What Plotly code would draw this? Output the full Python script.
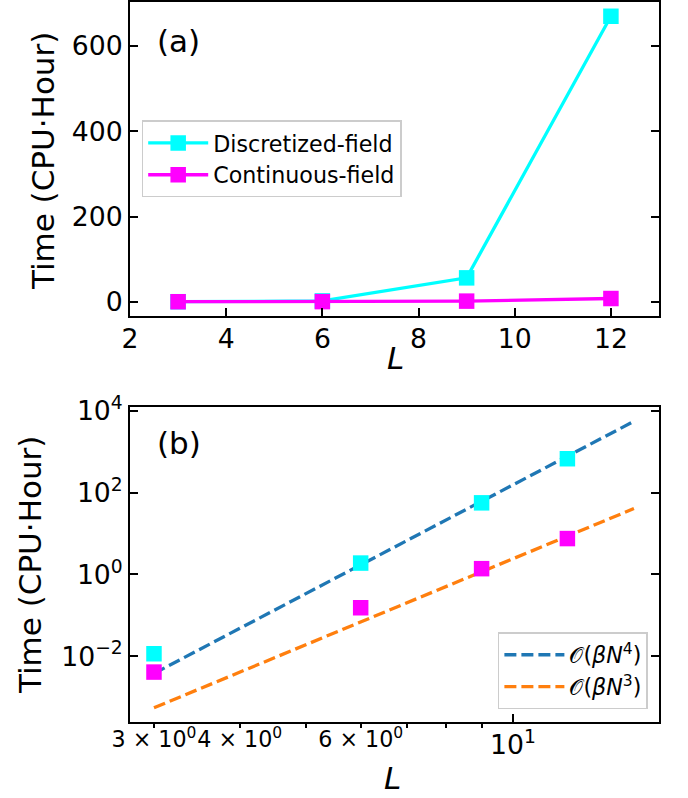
import plotly.graph_objects as go

# Linear lattice size and measured run times (CPU-hours)
L = [3, 6, 9, 12]
t_discretized = [0.0115, 1.89, 56, 670]
t_continuous = [0.0041, 0.153, 1.38, 7.5]

# Power-law guide lines on the log-log panel (end points)
fit_L = [3, 15]
fit_n4 = [0.0038, 5500]
fit_n3 = [0.00055, 40.6]

# Tick labels
ya_ticks = [0, 200, 400, 600]
xa_ticks = [2, 4, 6, 8, 10, 12]
yb_ticks = [1e-2, 1, 1e2, 1e4]
yb_text = ["10<sup>−2</sup>", "10<sup>0</sup>", "10<sup>2</sup>", "10<sup>4</sup>"]
xb_major = [10]
xb_major_text = ["10<sup>1</sup>"]
xb_minor = [3, 4, 6]
xb_minor_text = ["3 × 10<sup>0</sup>", "4 × 10<sup>0</sup>", "6 × 10<sup>0</sup>"]
xb_minor_marks = [3, 4, 5, 6, 7, 8, 9]

CYAN = "#00ffff"
MAGENTA = "#ff00ff"
BLUE = "#1f77b4"
ORANGE = "#ff7f0e"
FONT = "DejaVu Sans"
TICK = 26.7
SMALL = 22.2
BIG = 31
LW = 3.3
MS = 15.5

fig = go.Figure()

# (a) linear scale
fig.add_trace(go.Scatter(x=L, y=t_discretized, mode="lines+markers", name="Discretized-field",
                         line=dict(color=CYAN, width=LW), marker=dict(symbol="square", size=MS, color=CYAN),
                         xaxis="x", yaxis="y", legend="legend"))
fig.add_trace(go.Scatter(x=L, y=t_continuous, mode="lines+markers", name="Continuous-field",
                         line=dict(color=MAGENTA, width=LW), marker=dict(symbol="square", size=MS, color=MAGENTA),
                         xaxis="x", yaxis="y", legend="legend"))

# (b) log-log scale: guide lines then data points
fig.add_trace(go.Scatter(x=fit_L, y=fit_n4, mode="lines", name="𝒪(<i>βN</i><sup>4</sup>)",
                         line=dict(color=BLUE, width=LW, dash="12px,5px"),
                         xaxis="x2", yaxis="y2", legend="legend2"))
fig.add_trace(go.Scatter(x=fit_L, y=fit_n3, mode="lines", name="𝒪(<i>βN</i><sup>3</sup>)",
                         line=dict(color=ORANGE, width=LW, dash="12px,5px"),
                         xaxis="x2", yaxis="y2", legend="legend2"))
fig.add_trace(go.Scatter(x=L, y=t_discretized, mode="markers", showlegend=False,
                         marker=dict(symbol="square", size=MS, color=CYAN), xaxis="x2", yaxis="y2"))
fig.add_trace(go.Scatter(x=L, y=t_continuous, mode="markers", showlegend=False,
                         marker=dict(symbol="square", size=MS, color=MAGENTA), xaxis="x2", yaxis="y2"))
fig.add_trace(go.Scatter(x=[], y=[], showlegend=False, xaxis="x3", yaxis="y2"))

axis_common = dict(showline=True, linecolor="black", linewidth=1.8, ticks="inside", ticklen=8,
                   tickwidth=1.8, tickcolor="black", showgrid=False, zeroline=False, tickangle=0,
                   automargin=False, tickfont=dict(family=FONT, size=TICK, color="black"))

fig.update_layout(
    template="none",
    width=688, height=798,
    margin=dict(l=130, r=29, t=2, b=76, autoexpand=False),
    paper_bgcolor="white", plot_bgcolor="white",
    font=dict(family=FONT, color="black"),
    xaxis=dict(domain=[0, 1], anchor="y", range=[2, 13], tickmode="array", tickvals=xa_ticks,
               mirror=True, ticklabelstandoff=-2, **axis_common),
    yaxis=dict(domain=[0.5639, 1], anchor="x", range=[-33.5, 703.5], tickmode="array",
               tickvals=ya_ticks, mirror="ticks", **axis_common),
    xaxis2=dict(domain=[0, 1], anchor="y2", type="log", range=[0.4422, 1.2126], tickmode="array",
                tickvals=xb_major, ticktext=xb_major_text, mirror=True, ticklabelstandoff=-2,
                minor=dict(tickmode="array", tickvals=xb_minor_marks, ticks="outside", ticklen=4.4,
                           tickwidth=1.8, tickcolor="black"),
                **axis_common),
    xaxis3=dict(overlaying="x2", anchor="y2", side="bottom", type="log", range=[0.4422, 1.2126],
                tickmode="array", tickvals=xb_minor, ticktext=xb_minor_text, ticks="", tickangle=0,
                showline=False, showgrid=False, zeroline=False, ticklabelstandoff=2, automargin=False,
                tickfont=dict(family=FONT, size=SMALL, color="black")),
    yaxis2=dict(domain=[0, 0.4375], anchor="x2", type="log", range=[-3.607, 4.09], tickmode="array",
                tickvals=yb_ticks, ticktext=yb_text, mirror="ticks", **axis_common),
    legend=dict(x=0.0221, xanchor="left", y=0.782, yanchor="middle", bgcolor="white",
                bordercolor="#cccccc", borderwidth=1.5, itemwidth=60,
                font=dict(family=FONT, size=SMALL)),
    legend2=dict(x=0.979, xanchor="right", y=0.0176, yanchor="bottom", bgcolor="white",
                 bordercolor="#cccccc", borderwidth=1.5, itemwidth=60,
                 font=dict(family=FONT, size=SMALL)),
    showlegend=True,
)

ann = dict(xref="paper", yref="paper", showarrow=False, xanchor="center", yanchor="middle",
           font=dict(family=FONT, size=BIG, color="black"))
fig.add_annotation(text="Time (CPU·Hour)", x=-0.1645, y=0.779, textangle=-90, **ann)
fig.add_annotation(text="Time (CPU·Hour)", x=-0.189, y=0.218, textangle=-90, **ann)
fig.add_annotation(text="<i>L</i>", x=0.501, y=0.505, **ann)
fig.add_annotation(text="<i>L</i>", x=0.497, y=-0.0778, **ann)
fig.add_annotation(text="(a)", x=0.0917, y=0.946, **ann)
fig.add_annotation(text="(b)", x=0.0917, y=0.3875, **ann)

fig.write_html("out.html")
